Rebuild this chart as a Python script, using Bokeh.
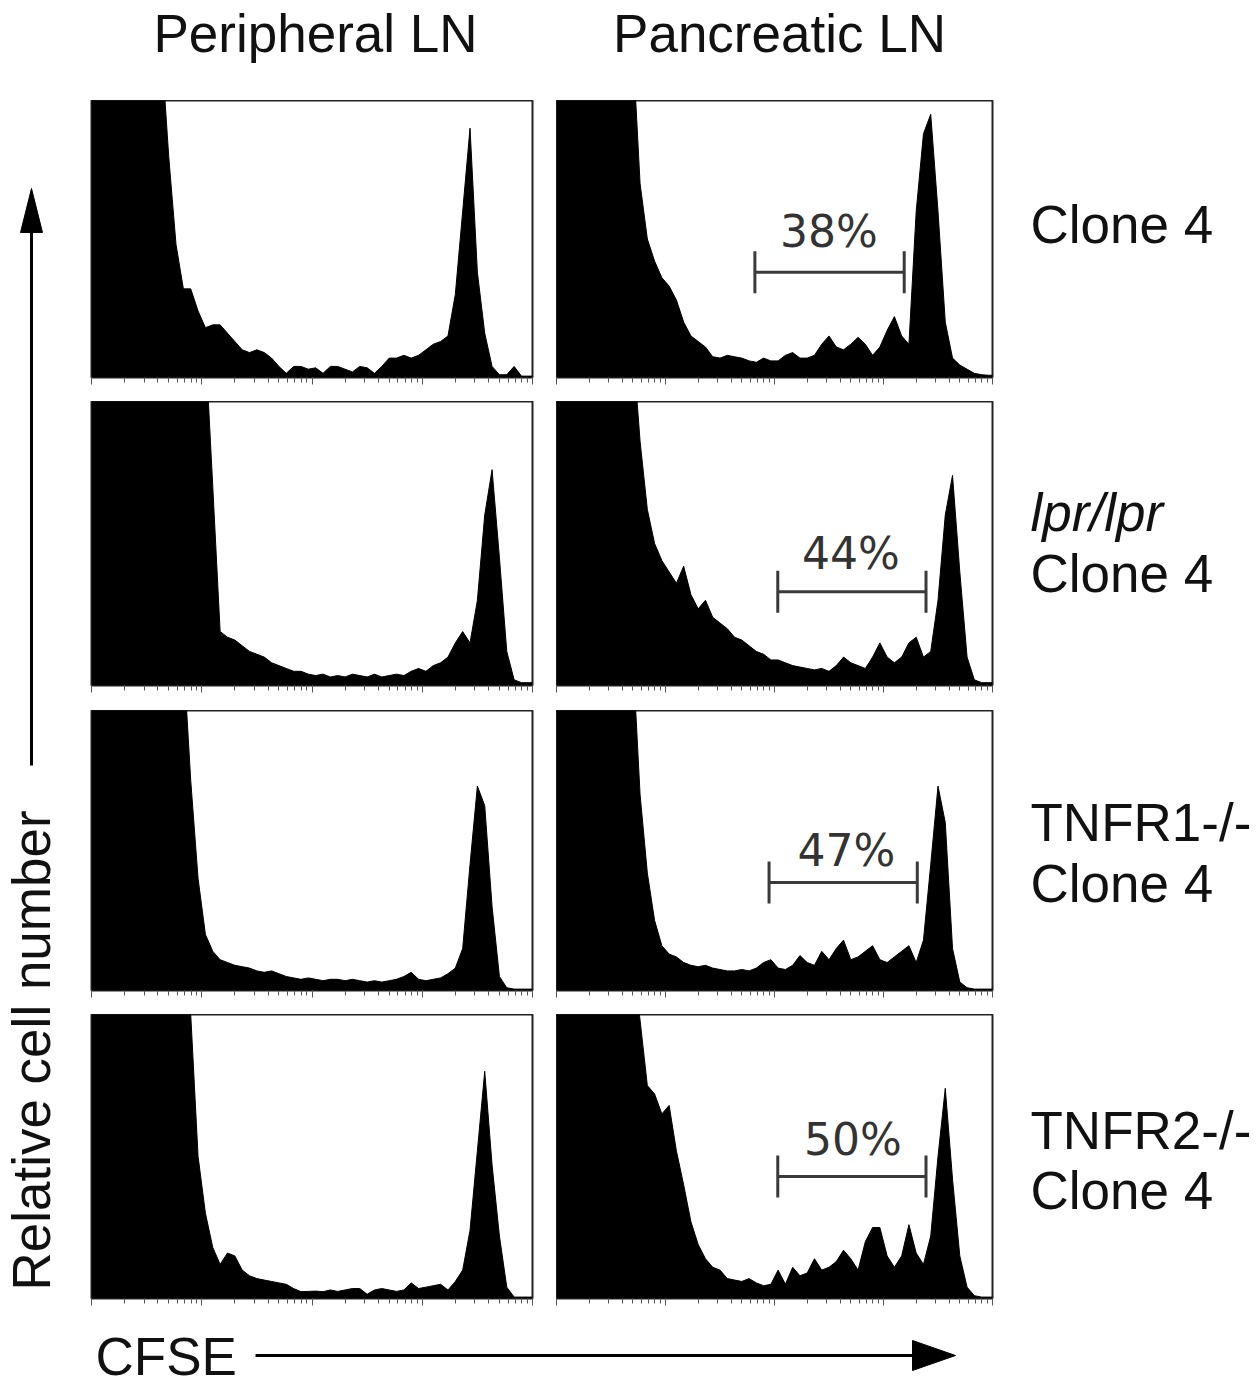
import numpy as np
from bokeh.plotting import figure
from bokeh.layouts import row, column
from bokeh.models import Range1d, CustomJSTickFormatter
from bokeh.core.properties import value
from bokeh.embed import file_html
from bokeh.resources import INLINE

# ---------------- data (relative cell number per CFSE bin, 60 log bins over 4 decades) -------------
column_titles = ["Peripheral LN", "Pancreatic LN"]
row_labels = [["Clone 4"], ["lpr/lpr", "Clone 4"], ["TNFR1-/-", "Clone 4"], ["TNFR2-/-", "Clone 4"]]
gate_labels = ["38%", "44%", "47%", "50%"]
gate_lo = [1.82, 2.03, 1.95, 2.03]      # gate start, CFSE decades
gate_hi = [3.19, 3.39, 3.31, 3.39]      # gate end, CFSE decades

periph_clone4 = [1.2, 1.2, 1.2, 1.2, 1.2, 1.2, 1.2, 1.2, 1.2, 1.2,
                 0.8, 0.48, 0.32, 0.32, 0.24, 0.18, 0.19, 0.19, 0.16, 0.13,
                 0.10, 0.09, 0.10, 0.09, 0.07, 0.04, 0.015, 0.04, 0.04, 0.03,
                 0.035, 0.015, 0.04, 0.04, 0.03, 0.02, 0.04, 0.035, 0.015, 0.04,
                 0.07, 0.07, 0.08, 0.07, 0.08, 0.10, 0.12, 0.13, 0.15, 0.30,
                 0.60, 0.90, 0.38, 0.16, 0.04, 0.01, 0.01, 0.04, 0.005, 0.005]
panc_clone4 = [1.2, 1.2, 1.2, 1.2, 1.2, 1.2, 1.2, 1.2, 1.2, 1.2,
               1.2, 0.70, 0.50, 0.42, 0.36, 0.33, 0.28, 0.20, 0.15, 0.13,
               0.11, 0.075, 0.07, 0.08, 0.075, 0.07, 0.06, 0.055, 0.07, 0.06,
               0.06, 0.08, 0.09, 0.07, 0.07, 0.08, 0.12, 0.15, 0.11, 0.10,
               0.12, 0.145, 0.12, 0.08, 0.11, 0.17, 0.22, 0.15, 0.12, 0.60,
               0.88, 0.95, 0.60, 0.20, 0.07, 0.045, 0.03, 0.015, 0.01, 0.008]
periph_lpr = [1.2, 1.2, 1.2, 1.2, 1.2, 1.2, 1.2, 1.2, 1.2, 1.2,
              1.2, 1.2, 1.2, 1.2, 1.2, 1.2, 0.70, 0.19, 0.17, 0.16,
              0.14, 0.12, 0.11, 0.10, 0.08, 0.07, 0.06, 0.05, 0.05, 0.04,
              0.035, 0.04, 0.03, 0.035, 0.03, 0.04, 0.035, 0.03, 0.04, 0.03,
              0.035, 0.04, 0.035, 0.05, 0.06, 0.05, 0.07, 0.08, 0.10, 0.15,
              0.19, 0.15, 0.30, 0.60, 0.76, 0.45, 0.12, 0.02, 0.01, 0.01]
panc_lpr = [1.2, 1.2, 1.2, 1.2, 1.2, 1.2, 1.2, 1.2, 1.2, 1.2,
            1.2, 0.86, 0.62, 0.50, 0.44, 0.40, 0.36, 0.42, 0.32, 0.27,
            0.30, 0.24, 0.22, 0.20, 0.17, 0.16, 0.14, 0.12, 0.11, 0.09,
            0.09, 0.08, 0.07, 0.065, 0.06, 0.055, 0.06, 0.05, 0.07, 0.10,
            0.08, 0.07, 0.06, 0.10, 0.15, 0.10, 0.08, 0.10, 0.15, 0.17,
            0.10, 0.12, 0.30, 0.60, 0.74, 0.40, 0.10, 0.02, 0.01, 0.01]
periph_tnfr1 = [1.2, 1.2, 1.2, 1.2, 1.2, 1.2, 1.2, 1.2, 1.2, 1.2,
                1.2, 1.2, 1.2, 0.75, 0.40, 0.20, 0.14, 0.11, 0.10, 0.09,
                0.085, 0.08, 0.07, 0.065, 0.07, 0.06, 0.05, 0.045, 0.04, 0.045,
                0.04, 0.035, 0.04, 0.04, 0.035, 0.04, 0.035, 0.03, 0.035, 0.03,
                0.035, 0.04, 0.05, 0.065, 0.04, 0.035, 0.04, 0.045, 0.06, 0.08,
                0.15, 0.45, 0.73, 0.66, 0.30, 0.05, 0.01, 0.005, 0.005, 0.005]
panc_tnfr1 = [1.2, 1.2, 1.2, 1.2, 1.2, 1.2, 1.2, 1.2, 1.2, 1.2,
              1.2, 0.70, 0.42, 0.25, 0.16, 0.13, 0.12, 0.10, 0.09, 0.085,
              0.09, 0.08, 0.075, 0.07, 0.07, 0.075, 0.07, 0.08, 0.10, 0.11,
              0.08, 0.075, 0.09, 0.125, 0.10, 0.09, 0.14, 0.11, 0.15, 0.18,
              0.11, 0.12, 0.14, 0.16, 0.11, 0.10, 0.12, 0.14, 0.16, 0.10,
              0.18, 0.45, 0.73, 0.60, 0.15, 0.03, 0.01, 0.005, 0.005, 0.005]
periph_tnfr2 = [1.2, 1.2, 1.2, 1.2, 1.2, 1.2, 1.2, 1.2, 1.2, 1.2,
                1.2, 1.2, 1.2, 1.0, 0.50, 0.30, 0.18, 0.12, 0.16, 0.15,
                0.10, 0.08, 0.07, 0.065, 0.06, 0.055, 0.05, 0.035, 0.024, 0.025,
                0.026, 0.024, 0.03, 0.025, 0.03, 0.035, 0.035, 0.015, 0.03, 0.035,
                0.03, 0.025, 0.03, 0.055, 0.035, 0.04, 0.045, 0.05, 0.03, 0.06,
                0.10, 0.24, 0.52, 0.80, 0.47, 0.22, 0.04, 0.005, 0.005, 0.005]
panc_tnfr2 = [1.2, 1.2, 1.2, 1.2, 1.2, 1.2, 1.2, 1.2, 1.2, 1.2,
              1.2, 0.98, 0.75, 0.72, 0.65, 0.68, 0.52, 0.40, 0.27, 0.19,
              0.14, 0.11, 0.10, 0.07, 0.065, 0.06, 0.07, 0.055, 0.045, 0.05,
              0.10, 0.05, 0.11, 0.08, 0.09, 0.14, 0.10, 0.11, 0.13, 0.17,
              0.14, 0.10, 0.20, 0.25, 0.25, 0.15, 0.11, 0.15, 0.26, 0.16,
              0.12, 0.22, 0.50, 0.74, 0.42, 0.15, 0.04, 0.01, 0.005, 0.005]

peripheral = [periph_clone4, periph_lpr, periph_tnfr1, periph_tnfr2]
pancreatic = [panc_clone4, panc_lpr, panc_tnfr1, panc_tnfr2]

# ---------------- layout (page pixels, origin at top-left of the layout) ----------------
FONT = "Liberation Sans"
row_top = [100, 401, 710, 1014]
frame_h = [277, 284, 280, 284]
gap_below = [24, 25, 24, 20]
left_fw, right_fw = 441, 436
gate_y = [0.38, 0.33, 0.386, 0.43]
gate_text_x = [2.50, 2.70, 2.66, 2.72]
gate_text_y = [0.527, 0.465, 0.50, 0.56]
label_centers = [[224], [512, 573], [822, 883], [1130, 1190]]
TOTAL_W = 1256


def panel(vals, fw, fh, bl, br, bb, gate=None):
    p = figure(width=bl + fw + br, height=fh + bb, x_axis_type="log",
               x_range=Range1d(1, 1e4), y_range=Range1d(0, 1),
               y_axis_location=None, toolbar_location=None, output_backend="svg",
               min_border_left=bl, min_border_right=br, min_border_top=0,
               min_border_bottom=bb, title=None)
    n = len(vals)
    centers = 10 ** ((np.arange(n) + 0.5) * 4.0 / n)
    xs = np.concatenate([[1.0], centers, [1e4]])
    ys = np.concatenate([[vals[0]], vals, [vals[-1]]])
    p.varea(x=xs, y1=np.zeros(len(xs)), y2=ys, fill_color="black")
    p.line(x=xs, y=ys, line_color="black", line_width=1)
    p.grid.visible = False
    p.outline_line_color = "#222222"
    p.outline_line_width = 2
    p.background_fill_color = "white"
    p.border_fill_color = "white"
    ax = p.xaxis[0]
    ax.formatter = CustomJSTickFormatter(code="return ''")
    ax.axis_line_color = None
    ax.major_tick_in = 0
    ax.minor_tick_in = 0
    ax.major_tick_out = 7
    ax.minor_tick_out = 5
    ax.major_tick_line_color = "#555555"
    ax.minor_tick_line_color = "#555555"
    ax.major_label_standoff = 0
    if gate is not None:
        i = gate
        lo, hi, lev = 10 ** gate_lo[i], 10 ** gate_hi[i], gate_y[i]
        cap = 21.0 / fh
        p.segment(x0=[lo], y0=[lev], x1=[hi], y1=[lev], line_color="#3a3a3a", line_width=3)
        p.segment(x0=[lo, hi], y0=[lev - cap] * 2, x1=[lo, hi], y1=[lev + cap] * 2,
                  line_color="#3a3a3a", line_width=3)
        p.text(x=[10 ** gate_text_x[i]], y=[gate_text_y[i]], text=[gate_labels[i]],
               text_font=value("DejaVu Sans"), text_font_size="44px", text_color="#333333",
               text_align="center", text_baseline="middle")
    return p


def blank(w, h, xr, yr):
    p = figure(width=w, height=h, x_range=Range1d(*xr), y_range=Range1d(*yr),
               toolbar_location=None, output_backend="svg", min_border=0, title=None,
               x_axis_location=None, y_axis_location=None)
    p.grid.visible = False
    p.outline_line_color = None
    p.background_fill_color = "white"
    p.border_fill_color = "white"
    return p


# header with column titles
header = blank(TOTAL_W, 100, (0, TOTAL_W), (100, 0))
header.text(x=[315, 779], y=[33, 33], text=column_titles, text_font=value(FONT),
            text_font_size="53px", text_color="#111111", text_align="center",
            text_baseline="middle")

# panels
grid_rows = []
lab_figs = []
for r in range(4):
    lp = panel(peripheral[r], left_fw, frame_h[r], 1, 24, gap_below[r])
    rp = panel(pancreatic[r], right_fw, frame_h[r], 0, 2, gap_below[r], gate=r)
    grid_rows.append(row(lp, rp, spacing=0))
    top = row_top[r]
    bot = top + frame_h[r] + gap_below[r]
    lf = blank(TOTAL_W - 994, frame_h[r] + gap_below[r], (994, TOTAL_W), (bot, top))
    for k, t in enumerate(row_labels[r]):
        lf.text(x=[1030], y=[label_centers[r][k]], text=[t], text_font=value(FONT),
                text_font_size="53px", text_color="#111111", text_align="left",
                text_baseline="middle",
                text_font_style="italic" if t == "lpr/lpr" else "normal")
    lab_figs.append(lf)

mid_h = sum(frame_h) + sum(gap_below)
ylab = blank(90, mid_h, (0, 90), (100 + mid_h, 100))
ylab.text(x=[31], y=[1050], text=["Relative cell number"], angle=np.pi / 2,
          text_font=value(FONT), text_font_size="53px", text_color="#111111",
          text_align="center", text_baseline="middle")
ylab.segment(x0=[31], y0=[765], x1=[31], y1=[228], line_color="black", line_width=3)
ylab.patch(x=[20, 42, 31], y=[232, 232, 188], fill_color="black", line_color="black")

footer = blank(TOTAL_W, 67, (0, TOTAL_W), (1385, 1318))
footer.text(x=[95], y=[1356], text=["CFSE"], text_font=value(FONT), text_font_size="53px",
            text_color="#111111", text_align="left", text_baseline="middle")
footer.segment(x0=[255], y0=[1355], x1=[915], y1=[1355], line_color="black", line_width=3)
footer.patch(x=[912, 912, 955], y=[1340, 1370, 1355], fill_color="black", line_color="black")

middle = row(ylab, column(*grid_rows, spacing=0), column(*lab_figs, spacing=0), spacing=0)
layout = column(header, middle, footer, spacing=0)

open("out.html", "w").write(file_html(layout, INLINE))
